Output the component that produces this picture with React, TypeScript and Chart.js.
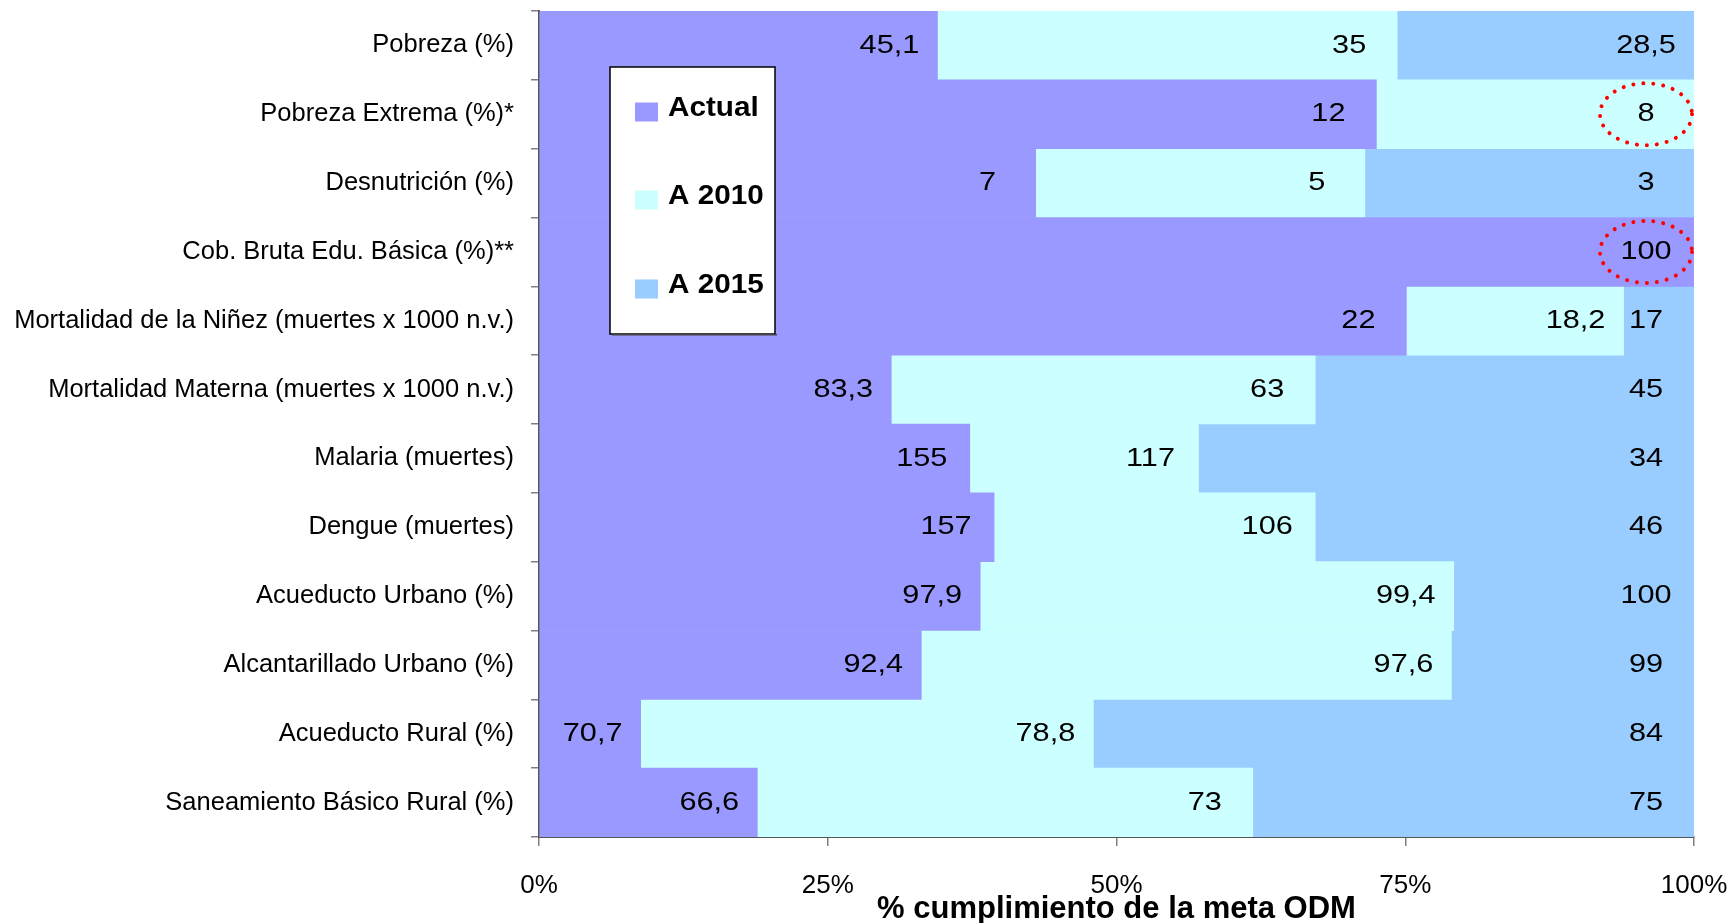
import React, { useEffect, useRef } from "react";
import { Chart, registerables } from "chart.js";

Chart.register(...registerables);

const categories = [
  "Pobreza (%)",
  "Pobreza Extrema (%)*",
  "Desnutrición (%)",
  "Cob. Bruta Edu. Básica (%)**",
  "Mortalidad de la Niñez (muertes x 1000 n.v.)",
  "Mortalidad Materna (muertes x 1000 n.v.)",
  "Malaria (muertes)",
  "Dengue (muertes)",
  "Acueducto Urbano (%)",
  "Alcantarillado Urbano (%)",
  "Acueducto Rural (%)",
  "Saneamiento Básico Rural (%)",
];

const seriesNames = ["Actual", "A 2010", "A 2015"];
const seriesColors = ["#9999FF", "#CCFFFF", "#99CCFF"];

// share of the bar (% of meta ODM)
const actualShare = [34.5, 72.5, 43.0, 100, 75.1, 30.5, 37.3, 39.4, 38.2, 33.1, 8.8, 18.9];
const a2010Share = [39.8, 27.5, 28.5, 0, 18.8, 36.7, 19.8, 27.8, 41.0, 45.9, 39.2, 42.9];
const a2015Share = [25.7, 0, 28.5, 0, 6.1, 32.8, 42.9, 32.8, 20.8, 21.0, 52.0, 38.2];

// data labels shown on the bars
const actualLabels = ["45,1", "12", "7", "100", "22", "83,3", "155", "157", "97,9", "92,4", "70,7", "66,6"];
const a2010Labels = ["35", "8", "5", "", "18,2", "63", "117", "106", "99,4", "97,6", "78,8", "73"];
const a2015Labels = ["28,5", "", "3", "", "17", "45", "34", "46", "100", "99", "84", "75"];

const xTicks = [0, 25, 50, 75, 100];

// labels circled in red: [series index, category index]
const highlighted = [
  [1, 1],
  [0, 3],
];

const FONT = "'Liberation Sans', Arial, sans-serif";
const SX = 1.18;

const labelSets = [actualLabels, a2010Labels, a2015Labels];

const labelPlugin = {
  id: "barLabels",
  afterDatasetsDraw(chart: any) {
    const ctx = chart.ctx;
    ctx.save();
    ctx.fillStyle = "#000";
    ctx.font = `26px ${FONT}`;
    ctx.textAlign = "center";
    ctx.textBaseline = "middle";
    const centers: Record<string, [number, number]> = {};
    labelSets.forEach((labels, di) => {
      const meta = chart.getDatasetMeta(di);
      meta.data.forEach((bar: any, i: number) => {
        const txt = labels[i];
        if (!txt) return;
        const cx = bar.x - 48;
        const cy = bar.y;
        centers[`${di}-${i}`] = [cx, cy];
        ctx.save();
        ctx.translate(cx, cy);
        ctx.scale(SX, 1);
        ctx.fillText(txt, 0, 0);
        ctx.restore();
      });
    });
    // red dotted ellipses
    ctx.strokeStyle = "#FF0000";
    ctx.lineWidth = 4;
    ctx.lineCap = "round";
    ctx.setLineDash([0.01, 10]);
    highlighted.forEach(([di, i]) => {
      const c = centers[`${di}-${i}`];
      if (!c) return;
      ctx.beginPath();
      ctx.ellipse(c[0], c[1], 46, 31, 0, 0, Math.PI * 2);
      ctx.stroke();
    });
    ctx.restore();

    // legend box
    const area = chart.chartArea;
    const bx = area.left + 71;
    const by = area.top + 56;
    const bw = 165;
    const bh = 267;
    ctx.save();
    ctx.fillStyle = "#FFFFFF";
    ctx.fillRect(bx, by, bw, bh);
    ctx.strokeStyle = "#000";
    ctx.lineWidth = 1.5;
    ctx.strokeRect(bx, by, bw, bh);
    ctx.fillStyle = "#444";
    ctx.fillRect(bx + 2, by + bh, bw, 1.5);
    const rows = [45, 133, 222];
    seriesNames.forEach((name, k) => {
      const cy = by + rows[k];
      ctx.fillStyle = seriesColors[k];
      ctx.fillRect(bx + 25, cy - 9.5, 23, 19);
      ctx.fillStyle = "#000";
      ctx.font = `bold 27px ${FONT}`;
      ctx.textAlign = "left";
      ctx.textBaseline = "middle";
      ctx.save();
      ctx.translate(bx + 58, cy - 3);
      ctx.scale(1.1, 1);
      ctx.fillText(name, 0, 0);
      ctx.restore();
    });
    ctx.restore();
  },
};

export default function App() {
  const ref = useRef<HTMLCanvasElement | null>(null);
  useEffect(() => {
    if (!ref.current) return;
    const chart = new Chart(ref.current, {
      type: "bar",
      data: {
        labels: categories,
        datasets: [actualShare, a2010Share, a2015Share].map((d, k) => ({
          label: seriesNames[k],
          data: d,
          backgroundColor: seriesColors[k],
          borderWidth: 0,
          barPercentage: 1,
          categoryPercentage: 1,
        })),
      },
      options: {
        indexAxis: "y",
        animation: false,
        responsive: true,
        maintainAspectRatio: false,
        layout: { padding: { top: 11, right: 38, bottom: 0, left: 0 } },
        plugins: {
          legend: { display: false },
          tooltip: { enabled: false },
        },
        scales: {
          x: {
            stacked: true,
            min: 0,
            max: 100,
            afterBuildTicks: (scale: any) => {
              scale.ticks = xTicks.map((v) => ({ value: v }));
            },
            afterFit: (scale: any) => {
              scale.height = 86;
              scale.paddingLeft = 0;
              scale.paddingRight = 0;
            },
            ticks: {
              callback: (v: any) => `${v}%`,
              color: "#000",
              font: { family: FONT, size: 26 },
              padding: 24,
              maxRotation: 0,
              autoSkip: false,
            },
            grid: {
              display: true,
              drawOnChartArea: false,
              drawTicks: true,
              tickLength: 9,
              color: "#808080",
              lineWidth: 1.5,
            },
            border: { display: true, color: "#555", width: 2 },
            title: {
              display: true,
              text: "% cumplimiento de la meta ODM",
              color: "#000",
              font: { family: FONT, size: 31, weight: "bold" },
              padding: { top: 0, bottom: -5 },
            },
          },
          y: {
            stacked: true,
            afterFit: (scale: any) => {
              scale.width = 539;
              scale.paddingTop = 0;
              scale.paddingBottom = 0;
            },
            ticks: {
              color: "#000",
              font: { family: FONT, size: 25.5 },
              padding: 17,
              autoSkip: false,
            },
            grid: {
              display: true,
              offset: true,
              drawOnChartArea: false,
              drawTicks: true,
              tickLength: 8,
              color: "#808080",
              lineWidth: 1.5,
            },
            border: { display: true, color: "#555", width: 2 },
          },
        },
      },
      plugins: [labelPlugin],
    });
    return () => chart.destroy();
  }, []);
  return (
    <div style={{ position: "fixed", left: 0, top: 0, width: 1732, height: 923, background: "#fff" }}>
      <canvas ref={ref} />
    </div>
  );
}
